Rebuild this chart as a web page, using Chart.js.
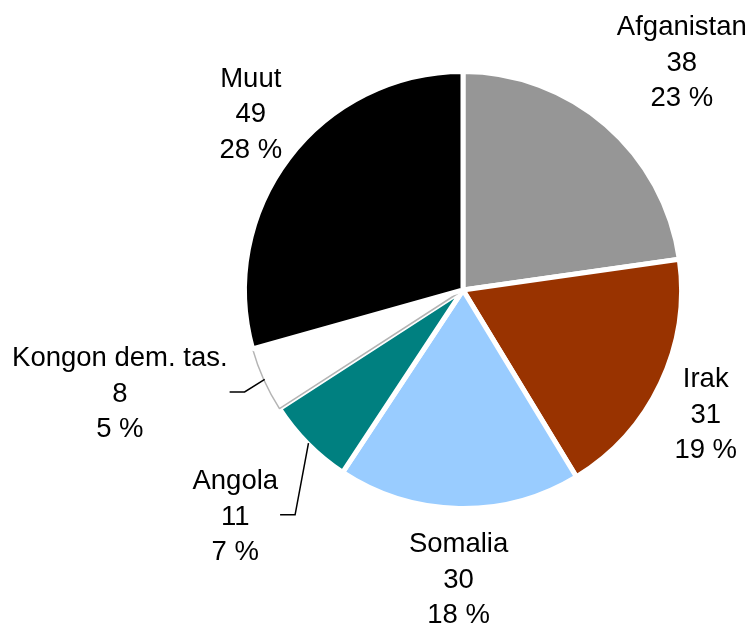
<!DOCTYPE html>
<html lang="fi">
<head>
  <meta charset="UTF-8" />
  <title>Piirakka</title>
  <script src="https://cdn.jsdelivr.net/npm/chart.js"></script>
  <style>
    body { margin: 0; background: #fff; }
    canvas { display: block; }
  </style>
</head>
<body>
  <canvas id="pie" width="750" height="623"></canvas>

  <script>
    // data
    const countries = ['Afganistan', 'Irak', 'Somalia', 'Angola', 'Kongon dem. tas.', 'Muut'];
    const values = [38, 31, 30, 11, 8, 49];
    const shares = ['23 %', '19 %', '18 %', '7 %', '5 %', '28 %'];

    const fillColors = ['#969696', '#993300', '#99ccff', '#008080', '#ffffff', '#000000'];
    const edgeColors = ['#fff', '#fff', '#fff', '#fff', '#b4b4b4', '#fff'];
    const edgeWidths = [5, 5, 5, 5, 1.5, 5];

    // where each label sits: angle shift from slice middle (deg) and distance from centre (px)
    const labelShift = [2.7, 1.5, -0.2, 0.1, 7.7, 2.8];
    const labelDist = [317, 272, 288, 320, 358, 277];
    const hasLeader = [false, false, false, true, true, false];

    const FONT = '27.5px "Liberation Sans", Arial, sans-serif';
    const LINE = 35.5;

    const pieLabels = {
      id: 'pieLabels',
      afterDatasetsDraw(chart) {
        const ctx = chart.ctx;
        const arcs = chart.getDatasetMeta(0).data;
        ctx.save();
        ctx.font = FONT;
        ctx.fillStyle = '#000';
        ctx.textAlign = 'center';
        ctx.textBaseline = 'alphabetic';
        arcs.forEach((arc, i) => {
          const p = arc.getProps(['x', 'y', 'startAngle', 'endAngle', 'outerRadius'], true);
          const mid = (p.startAngle + p.endAngle) / 2;
          const a = mid + labelShift[i] * Math.PI / 180;
          const cx = p.x + Math.cos(a) * labelDist[i];
          const cy = p.y + Math.sin(a) * labelDist[i];
          const lines = [countries[i], String(values[i]), shares[i]];
          lines.forEach((t, k) => ctx.fillText(t, cx, cy + 10 + (k - 1) * LINE));

          if (hasLeader[i]) {
            const w = Math.max(...lines.map(t => ctx.measureText(t).width));
            const x0 = cx + w / 2 + 2;
            const ex = p.x + Math.cos(mid) * (p.outerRadius - 1);
            const ey = p.y + Math.sin(mid) * (p.outerRadius - 1);
            ctx.beginPath();
            ctx.strokeStyle = '#000';
            ctx.lineWidth = 1.5;
            ctx.moveTo(x0, cy);
            ctx.lineTo(x0 + 15, cy);
            ctx.lineTo(ex, ey);
            ctx.stroke();
          }
        });
        ctx.restore();
      }
    };

    new Chart(document.getElementById('pie'), {
      type: 'pie',
      data: {
        labels: countries,
        datasets: [{
          data: values,
          backgroundColor: fillColors,
          borderColor: edgeColors,
          borderWidth: edgeWidths
        }]
      },
      options: {
        responsive: false,
        animation: false,
        radius: 218.5,
        layout: { padding: { left: 200, right: 24, top: 20, bottom: 63 } },
        plugins: {
          legend: { display: false },
          tooltip: { enabled: false }
        }
      },
      plugins: [pieLabels]
    });
  </script>
</body>
</html>
